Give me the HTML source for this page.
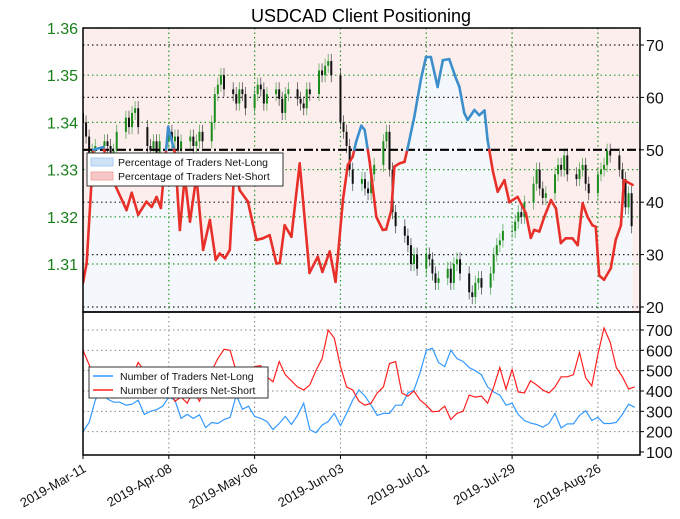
<!DOCTYPE html>
<html><head><meta charset="utf-8"><style>
body{margin:0;background:#fff;}
svg{display:block;font-family:"Liberation Sans","DejaVu Sans",sans-serif;}
</style></head><body>
<svg id="c" width="680" height="519"></svg>
<script>
const NS="http://www.w3.org/2000/svg";
const svg=document.getElementById('c');
// ---- data ----
const dateTicks=["2019-Mar-11","2019-Apr-08","2019-May-06","2019-Jun-03","2019-Jul-01","2019-Jul-29","2019-Aug-26"];
const dateTickDays=[0,28,56,84,112,140,168];
const priceTicks=[1.31,1.32,1.33,1.34,1.35,1.36];
const pctTicks=[20,30,40,50,60,70];
const countTicks=[100,200,300,400,500,600,700];
const closes=[1.340,1.337,1.333,1.334,1.335,1.336,1.335,1.333,1.334,1.338,1.341,1.339,1.342,1.343,1.339,
1.335,1.334,1.336,1.333,1.336,1.338,1.336,1.337,1.334,1.336,1.337,1.335,1.336,1.338,1.336,
1.340,1.346,1.348,1.350,1.347,1.346,1.344,1.347,1.346,1.343,1.346,1.348,1.347,1.344,1.346,
1.347,1.345,1.342,1.346,1.347,1.345,1.344,1.343,1.347,1.346,1.351,1.350,1.352,1.353,1.350,
1.340,1.338,1.335,1.330,1.327,1.328,1.326,1.325,1.329,1.331,1.336,1.338,1.330,1.321,1.318,
1.316,1.314,1.310,1.312,1.309,1.312,1.311,1.308,1.306,1.307,1.309,1.306,1.310,1.311,1.308,
1.304,1.303,1.306,1.307,1.305,1.308,1.312,1.314,1.315,1.317,1.317,1.319,1.321,1.320,1.323,
1.327,1.330,1.326,1.324,1.325,1.329,1.331,1.330,1.333,1.329,1.328,1.330,1.331,1.327,1.325,
1.329,1.330,1.331,1.334,1.333,1.330,1.328,1.322,1.325,1.318];
const sentDays=[0,1.2,3.4,6.6,9.9,14.2,15.9,18,20.7,22.4,24,25.4,27.8,30,31.6,33.2,34.9,37,39.2,41.4,43.3,44.6,46.3,47.9,49.5,51.1,53.8,56.6,58.7,60.9,63.1,64.2,65.8,68,70.7,73.9,76.6,78.1,80.5,82.4,84.8,86.4,88,89.1,90.8,91.9,93.5,95.7,97.8,98.9,100.6,101.6,103.3,104.9,106,108.1,110.3,111.9,113.5,115.7,117.4,119.5,121.7,122.8,124.4,125.5,127.7,129.3,131,132,133.7,135.3,137.5,139.1,141.8,144.5,146.1,147.2,148.9,150.5,152.7,154.3,155.9,157.5,159.7,161.4,163,164.6,166.2,167.3,168.4,170,172.2,173.8,175.5,176.5,179.3];
const sentLong=[24.6,28.4,50,50.5,44,38.5,41.8,37.6,40.1,39.1,41,38.9,54.4,49.3,34.7,44.9,36.3,44.9,30.9,36.6,29,30.2,29.3,30.9,47.5,42.3,40.1,32.8,33.1,33.7,28.3,28.4,35.6,33.4,47.4,26.5,29.6,26.7,30.6,24.8,40.4,47.1,48.7,51.5,54.6,53.8,47.8,37.2,34.7,34.8,38.5,46.8,47.4,47.7,50.5,56.3,63.6,67.7,67.7,62,67.1,67.3,63.6,62,57,55.7,57.6,56.6,57.5,51.9,46,42,44.2,40,41,37.9,33.2,34.7,34.4,37.2,40.4,38.8,32.2,33.1,33.1,31.8,39.8,37.2,35.6,35.3,26,25.2,27.4,32.8,35.6,44.2,43.3];
const netLongCount=[200,245,355,420,360,345,345,330,335,355,285,300,308,325,370,355,265,285,265,283,220,245,240,260,270,380,310,325,275,265,250,210,240,275,235,280,340,210,195,232,250,290,230,290,355,405,375,330,280,290,290,330,330,390,405,490,600,610,540,520,600,560,545,515,500,480,420,395,380,330,340,285,255,242,235,222,240,290,218,238,238,280,303,255,270,240,240,245,285,335,320];
const netShortCount=[600,530,450,400,370,365,385,430,470,540,500,470,460,440,410,350,370,340,400,350,430,500,560,605,600,495,465,450,520,525,470,445,545,480,450,420,405,430,500,560,700,660,520,420,405,350,330,340,390,420,535,545,390,375,400,355,330,298,300,325,260,290,300,380,370,375,340,420,515,410,505,395,390,450,430,405,390,420,470,470,480,590,465,425,580,710,640,515,470,410,420];
// ---- scales ----
const X0=83,X1=640,PPD=3.065;
const xd=d=>X0+d*PPD;
const yPrice=p=>28+(1.36-p)*4720;
const yPct=v=>45+(70-v)*5.24;
const yCnt=v=>330+(700-v)*0.2033;
const T1=28,B1=312,T2=312,B2=455;
function el(tag,attrs,parent){const e=document.createElementNS(NS,tag);for(const k in attrs)e.setAttribute(k,attrs[k]);(parent||svg).appendChild(e);return e;}
const tradeDays=[];{let d=0;for(let i=0;i<closes.length;i++){tradeDays.push(d);d+=(i%5===4)?3:1;}}
// ---- top panel ----
const clipT=el('clipPath',{id:'ct'});el('rect',{x:X0,y:T1,width:X1-X0,height:B1-T1},clipT);
const gTop=el('g',{'clip-path':'url(#ct)'});


el('rect',{x:X0,y:T1,width:X1-X0,height:B1-T1,fill:'#fdeeee'},gTop);
let pts=sentDays.map((d,i)=>xd(d).toFixed(1)+','+yPct(sentLong[i]).toFixed(1));
const fillLong=el('polygon',{points:X0+','+B1+' '+pts.join(' ')+' '+xd(sentDays[sentDays.length-1])+','+B1+' '+X1+','+B1,fill:'#f4f8fc'},gTop);


el('rect',{x:xd(sentDays[sentDays.length-1]),y:T1,width:X1-xd(sentDays[sentDays.length-1]),height:B1-T1,fill:'#fdeeee'},gTop);
priceTicks.forEach(p=>{el('line',{x1:X0,x2:X1,y1:yPrice(p),y2:yPrice(p),stroke:'#2a9a2a','stroke-width':1.2,'stroke-dasharray':'1.5,3'},gTop);});
pctTicks.forEach(v=>{if(v!==50)el('line',{x1:X0,x2:X1,y1:yPct(v),y2:yPct(v),stroke:'#222','stroke-width':1.2,'stroke-dasharray':'1.5,3'},gTop);});
dateTickDays.forEach(d=>{el('line',{x1:xd(d),x2:xd(d),y1:T1,y2:B1,stroke:'#2a9a2a','stroke-width':1.2,'stroke-dasharray':'1.5,3'},gTop);});
closes.forEach((c,i)=>{
  const o=i?closes[i-1]:c+0.002;const x=xd(tradeDays[i]);
  const hi=Math.max(o,c)+0.0015,lo=Math.min(o,c)-0.0015;
  const col=c>=o?'#1c8c1c':'#111';
  const g=el('g',{},gTop);
  
  
  el('line',{x1:x,x2:x,y1:yPrice(hi),y2:yPrice(lo),stroke:col,'stroke-width':0.8,opacity:0.7},g);
  el('rect',{x:x-1,y:yPrice(Math.max(o,c)),width:2,height:Math.max(1,Math.abs(yPrice(o)-yPrice(c))),fill:col},g);
});
el('line',{x1:X0,x2:X1,y1:yPct(50),y2:yPct(50),stroke:'#000','stroke-width':2.2,'stroke-dasharray':'9,3,2,3'},gTop);
for(let i=1;i<sentDays.length;i++){
  const a=sentLong[i-1],b=sentLong[i];
  const xa=xd(sentDays[i-1]),xb=xd(sentDays[i]);
  const segs=[];
  if((a-50)*(b-50)<0){const t=(50-a)/(b-a);const xm=xa+t*(xb-xa);segs.push([xa,a,xm,50],[xm,50,xb,b]);}else segs.push([xa,a,xb,b]);
  segs.forEach(s=>{const up=(s[1]+s[3])/2>50;
    const ln=el('line',{x1:s[0],y1:yPct(s[1]),x2:s[2],y2:yPct(s[3]),stroke:up?'#3d8fcc':'#e8302a','stroke-width':2.6,'stroke-linecap':'round'},gTop);
    
    });
}
el('rect',{x:X0,y:T1,width:X1-X0,height:B1-T1,fill:'none',stroke:'#000','stroke-width':1.5});
// ---- bottom panel ----
const gB=el('g',{});


countTicks.forEach(v=>{if(v>100)el('line',{x1:X0,x2:X1,y1:yCnt(v),y2:yCnt(v),stroke:'#888','stroke-width':1,'stroke-dasharray':'1.5,3'},gB);});
dateTickDays.forEach(d=>{el('line',{x1:xd(d),x2:xd(d),y1:T2,y2:B2,stroke:'#888','stroke-width':1,'stroke-dasharray':'1.5,3'},gB);});
function cntLine(arr,col,name){const p=arr.map((v,i)=>xd(i*2).toFixed(1)+','+yCnt(v).toFixed(1)).join(' ');
  const pl=el('polyline',{points:p,fill:'none',stroke:col,'stroke-width':1.2},gB);
  
  }
cntLine(netLongCount,'#3399ff','net-long-count-line');
cntLine(netShortCount,'#ff2020','net-short-count-line');
el('rect',{x:X0,y:T2,width:X1-X0,height:B2-T2,fill:'none',stroke:'#000','stroke-width':1.5});
// ---- axes labels ----
priceTicks.forEach(p=>{const t=el('text',{x:78,y:yPrice(p)+6,'text-anchor':'end','font-size':16,fill:'#1a7f1a'});t.textContent=p.toFixed(2);
  });
pctTicks.forEach(v=>{el('line',{x1:X1,x2:X1+4,y1:yPct(v),y2:yPct(v),stroke:'#000'});const t=el('text',{x:646,y:yPct(v)+6,'font-size':16,fill:'#111'});t.textContent=v;
  });
countTicks.forEach(v=>{el('line',{x1:X1,x2:X1+4,y1:yCnt(v),y2:yCnt(v),stroke:'#000'});const t=el('text',{x:646,y:yCnt(v)+6,'font-size':16,fill:'#111'});t.textContent=v;
  });
dateTicks.forEach((s,i)=>{const x=xd(dateTickDays[i]);el('line',{x1:x,x2:x,y1:B2,y2:B2+4,stroke:'#000'});
  const t=el('text',{x:x+4,y:B2+16,'text-anchor':'end','font-size':13,fill:'#111',transform:`rotate(-30 ${x+4} ${B2+16})`});t.textContent=s;
  });
const title=el('text',{x:361,y:22,'text-anchor':'middle','font-size':18,fill:'#000'});title.textContent='USDCAD Client Positioning';

// ---- legends ----
function legend(x,y,w,h,items,name){const g=el('g',{});
  el('rect',{x:x,y:y,width:w,height:h,fill:'#fff',stroke:'#333','stroke-width':1},g);
  items.forEach((it,i)=>{const cy=y+9+i*14;
    if(it.box)el('rect',{x:x+4,y:cy-4,width:22,height:8,fill:it.fill,stroke:it.stroke,'stroke-width':0.8},g);
    else el('line',{x1:x+4,x2:x+24,y1:cy,y2:cy,stroke:it.stroke,'stroke-width':1.5},g);
    const t=el('text',{x:x+31,y:cy+4,'font-size':10.5,fill:'#111'},g);t.textContent=it.label;});}
legend(87,153,196,33,[{box:1,fill:'#cfe3f7',stroke:'#9cc6ee',label:'Percentage of Traders Net-Long'},{box:1,fill:'#f7c8c8',stroke:'#f09a9a',label:'Percentage of Traders Net-Short'}],'top-legend');
legend(89,367,179,31,[{stroke:'#3399ff',label:'Number of Traders Net-Long'},{stroke:'#ff2020',label:'Number of Traders Net-Short'}],'bottom-legend');
</script>
</body></html>
